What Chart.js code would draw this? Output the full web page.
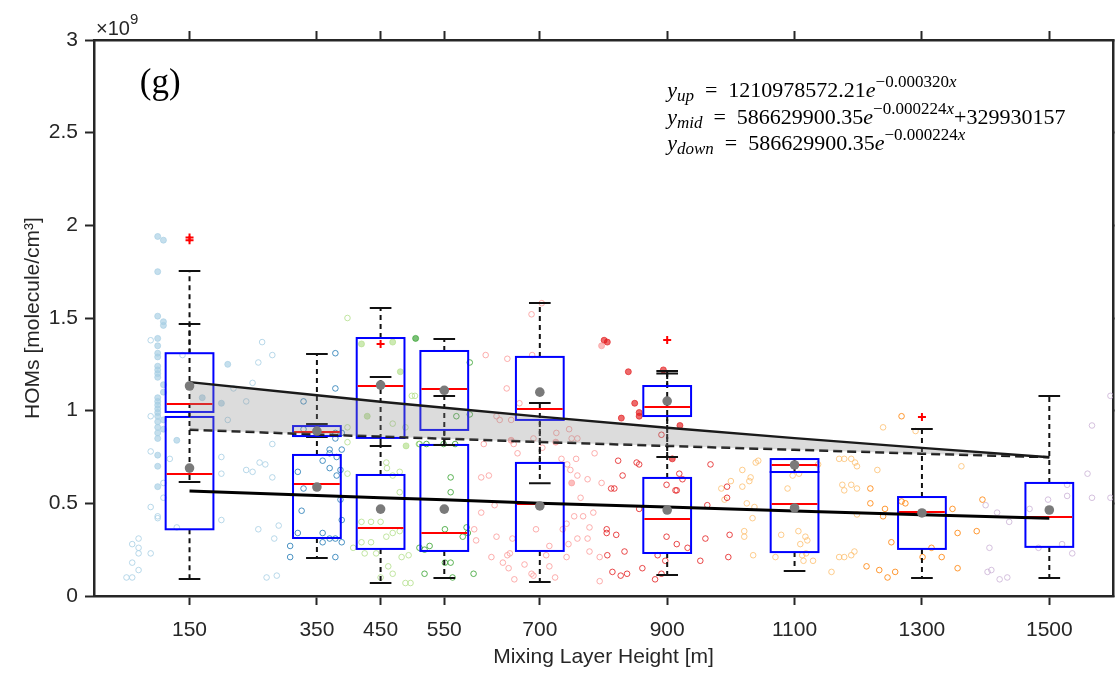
<!DOCTYPE html>
<html>
<head>
<meta charset="utf-8">
<script src="https://cdn.jsdelivr.net/npm/chart.js@4.4.1/dist/chart.umd.min.js"></script>
<style>
  html, body { margin: 0; padding: 0; background: #fff; }
</style>
</head>
<body>
<canvas id="chartHoms" width="1115" height="677"></canvas>
<script>
// mixing layer height classes [m]
var heights = [150, 350, 450, 550, 700, 900, 1100, 1300, 1500]

// box stats in 1e9 molecule/cm3 (null = no upper box for that class)
var upQ1   = [0.993, 0.863, 0.853, 0.896, 0.950, 0.971, 0.669, null, null]
var upQ3   = [1.310, 0.917, 1.392, 1.322, 1.290, 1.133, 0.739, null, null]
var upMed  = [1.036, 0.885, 1.133, 1.117, 1.009, 1.020, 0.707, null, null]
var upMean = [1.133, 0.890, 1.138, 1.110, 1.100, 1.052, 0.707, null, null]
var upLo   = [0.615, 0.858, 0.809, 0.815, 0.609, 0.750, 0.669, null, null]
var upHi   = [1.754, 0.928, 1.554, 1.387, 1.581, 1.214, 0.739, null, null]

var loQ1   = [0.360, 0.313, 0.254, 0.243, 0.243, 0.232, 0.237, 0.254, 0.265]
var loQ3   = [0.966, 0.761, 0.653, 0.815, 0.718, 0.637, 0.669, 0.534, 0.610]
var loMed  = [0.658, 0.604, 0.367, 0.340, 0.496, 0.415, 0.496, 0.453, 0.426]
var loMean = [0.690, 0.588, 0.469, 0.469, 0.486, 0.464, 0.475, 0.448, 0.464]
var loLo   = [0.092, 0.205, 0.070, 0.097, 0.075, 0.113, 0.135, 0.097, 0.097]
var loHi   = [1.468, 1.306, 1.182, 1.079, 1.041, 1.200, 0.739, 0.901, 1.079]

var outlierX = [150, 150, 450, 900, 1300]
var outlierY = [1.920, 1.935, 1.360, 1.381, 0.966]

// fitted curves read at each class
var fitUp   = [1.154, 1.083, 1.048, 1.016, 0.968, 0.908, 0.852, 0.799, 0.749]
var fitMid  = [0.897, 0.872, 0.860, 0.849, 0.831, 0.810, 0.789, 0.768, 0.749]
var fitDown = [0.567, 0.542, 0.530, 0.519, 0.501, 0.480, 0.459, 0.438, 0.419]

var yTicks = [0, 0.5, 1, 1.5, 2, 2.5, 3]

// raw samples [height jittered, value]
var pts150f = [[100,1.94],[109,1.92],[100,1.75],[100,1.51],[109,1.48],[109,1.46],[100,1.39],[100,1.35],[100,1.31],[100,1.29],[100,1.24],[100,1.22],[100,1.20],[100,1.18],[109,1.14],[100,1.07],[100,1.05],[100,1.03],[100,1.01],[100,0.99],[100,0.97],[100,0.94],[100,0.91],[100,0.88],[100,0.85],[109,1.10],[109,0.95],[109,0.90],[130,0.84],[100,0.76],[100,0.70],[100,0.59],[210,1.25],[200,1.04],[170,1.07]]
var pts150 = [[89,1.38],[139,1.30],[89,0.97],[89,0.78],[119,0.74],[109,0.61],[109,0.53],[100,0.42],[89,0.48],[89,0.23],[100,0.43],[60,0.28],[70,0.31],[70,0.26],[70,0.23],[60,0.18],[70,0.14],[51,0.10],[60,0.10],[130,0.37],[219,1.12],[239,1.05],[249,1.15],[264,1.37],[280,1.30],[258,1.26],[200,0.75],[200,0.66],[200,0.41],[239,0.68],[249,0.67],[260,0.72],[269,0.71],[280,0.64],[280,0.82],[210,0.95],[258,0.36],[271,0.10],[287,0.11],[283,0.31],[290,0.38]]
var pts350 = [[379,1.31],[379,1.12],[329,1.05],[329,0.90],[379,0.88],[379,0.85],[389,0.88],[370,0.79],[389,0.79],[359,0.73],[370,0.69],[381,0.75],[370,0.77],[381,0.65],[320,0.67],[329,0.58],[326,0.46],[320,0.34],[308,0.27],[308,0.21],[359,0.29],[370,0.31],[379,0.31],[389,0.29],[379,0.21],[359,0.34],[387,0.68],[387,0.52],[389,0.41]]
var pts450 = [[398,1.50],[499,1.08],[504,1.08],[469,0.93],[489,0.91],[398,0.91],[398,0.83],[510,0.82],[459,0.72],[460,0.69],[480,0.67],[469,0.65],[398,0.66],[480,0.56],[420,0.40],[435,0.40],[450,0.40],[459,0.32],[469,0.34],[480,0.35],[420,0.29],[435,0.29],[407,0.26],[425,0.23],[443,0.23],[483,0.21],[494,0.22],[450,0.10],[469,0.12],[489,0.07],[497,0.07],[462,0.16]]
var pts450f = [[420,1.36],[469,1.37],[481,1.21],[429,0.97],[490,0.81]]
var pts550 = [[590,1.26],[569,0.97],[590,0.98],[511,0.82],[522,0.82],[567,0.82],[549,0.82],[560,0.64],[560,0.56],[585,0.37],[579,0.32],[587,0.34],[551,0.36],[511,0.26],[527,0.27],[519,0.25],[551,0.18],[560,0.18],[519,0.12],[563,0.10],[596,0.12]]
var pts550f = [[505,1.39]]
var pts700 = [[615,1.30],[649,1.28],[687,1.52],[703,1.58],[688,1.30],[648,1.12],[668,1.04],[632,0.97],[637,0.95],[655,0.95],[746,0.90],[726,0.88],[750,0.85],[759,0.85],[690,0.85],[659,0.82],[612,0.82],[665,0.77],[704,0.80],[734,0.74],[743,0.71],[757,0.74],[748,0.68],[775,0.63],[759,0.65],[786,0.77],[797,0.61],[764,0.53],[754,0.43],[768,0.43],[784,0.45],[742,0.39],[736,0.36],[694,0.36],[657,0.31],[653,0.23],[642,0.18],[651,0.15],[676,0.17],[687,0.12],[690,0.11],[715,0.16],[724,0.10],[742,0.21],[745,0.28],[759,0.31],[775,0.31],[778,0.24],[794,0.21],[794,0.08],[778,0.37],[608,0.64],[620,0.65],[629,0.49],[608,0.45],[597,0.36],[632,0.32],[600,0.30],[710,0.22],[624,0.21],[649,0.22],[715,0.27],[660,0.09]]
var pts700f = [[797,1.35],[750,0.61],[725,0.83],[655,0.84]]
var pts900 = [[823,0.73],[852,0.72],[856,0.71],[830,0.65],[812,0.58],[817,0.58],[891,0.87],[919,0.66],[924,0.63],[913,0.57],[915,0.57],[899,0.60],[968,0.71],[994,0.59],[994,0.53],[963,0.49],[856,0.47],[899,0.32],[915,0.28],[960,0.31],[998,0.33],[996,0.21],[952,0.19],[932,0.26],[885,0.22],[861,0.15],[837,0.12],[827,0.11],[814,0.13],[806,0.22],[805,0.36],[805,0.34],[820,0.33],[833,0.24],[897,0.19],[891,0.12],[881,0.09]]
var pts900f = [[801,1.38],[806,1.37],[839,1.21],[849,1.04],[828,0.96],[856,0.99],[856,0.97],[894,1.22],[908,0.74],[920,0.92]]
var pts1100 = [[1018,0.68],[1039,0.72],[1043,0.73],[1031,0.64],[1029,0.62],[1018,0.59],[1025,0.50],[1037,0.48],[1034,0.42],[1021,0.35],[1021,0.32],[1035,0.22],[1070,0.21],[1079,0.33],[1106,0.35],[1117,0.32],[1120,0.30],[1109,0.28],[1112,0.22],[1118,0.23],[1129,0.19],[1114,0.19],[1089,0.58],[1097,0.65],[1107,0.66],[1137,0.71],[1158,0.13],[1170,0.21],[1178,0.21],[1189,0.22],[1194,0.24],[1170,0.74],[1178,0.74],[1189,0.74],[1195,0.72],[1198,0.70],[1175,0.60],[1189,0.60],[1198,0.58],[1178,0.57],[1198,0.44],[1230,0.68],[1239,0.91],[1290,0.89],[1362,0.70],[990,0.52],[1000,0.62],[985,0.58]]
var pts1300 = [[1219,0.58],[1219,0.50],[1242,0.47],[1239,0.43],[1252,0.29],[1213,0.16],[1233,0.14],[1246,0.10],[1258,0.13],[1274,0.50],[1268,0.51],[1301,0.21],[1315,0.26],[1331,0.21],[1348,0.47],[1356,0.34],[1356,0.15],[1386,0.35],[1395,0.52],[1268,0.97]]
var pts1500 = [[1400,0.49],[1418,0.45],[1437,0.40],[1406,0.26],[1403,0.13],[1409,0.14],[1422,0.09],[1434,0.10],[1469,0.47],[1498,0.52],[1483,0.26],[1520,0.28],[1536,0.23],[1528,0.60],[1528,0.54],[1560,0.66],[1567,0.53],[1567,0.92],[1596,1.08],[1596,0.53]]

var BOX_HALF = 37.5   // m
var CAP_HALF = 17     // m
var TXT = '#262626'
Chart.defaults.font.family = 'Liberation Sans'

var toXY = function(arr){
  return arr.map(function(p){ return {x: p[0], y: p[1]} })
}
var zipXY = function(xs, ys){
  var out = []
  for (let i = 0; i < xs.length; i++) {
    if (ys[i] != null) out.push({x: xs[i], y: ys[i]})
  }
  return out
}

var rgba = function(hex, a){
  var n = parseInt(hex.slice(1), 16)
  return 'rgba(' + (n >> 16) + ',' + ((n >> 8) & 255) + ',' + (n & 255) + ',' + a + ')'
}

var hollow = function(arr, hex){
  return { label: 'pts', data: toXY(arr), pointRadius: 2.8, pointBorderWidth: 1,
    pointBackgroundColor: 'rgba(0,0,0,0)', pointBorderColor: rgba(hex, 0.8) }
}
var filled = function(arr, hex){
  return { label: 'pts', data: toXY(arr), pointRadius: 3, pointBorderWidth: 1,
    pointBackgroundColor: rgba(hex, 0.65), pointBorderColor: rgba(hex, 0.65) }
}

var drawBoxes = function(ctx, xs, ys, q1, q3, med, lo, hi){
  heights.forEach(function(h, i){
    if (q1[i] == null) return
    var xc = xs.getPixelForValue(h)
    var xl = xs.getPixelForValue(h - BOX_HALF), xr = xs.getPixelForValue(h + BOX_HALF)
    var cl = xs.getPixelForValue(h - CAP_HALF), cr = xs.getPixelForValue(h + CAP_HALF)
    var y1 = ys.getPixelForValue(q1[i]), y3 = ys.getPixelForValue(q3[i])
    var yl = ys.getPixelForValue(lo[i]), yh = ys.getPixelForValue(hi[i])
    var ym = ys.getPixelForValue(med[i])
    ctx.strokeStyle = '#111'
    ctx.lineWidth = 2
    ctx.setLineDash([5, 4])
    ctx.beginPath()
    ctx.moveTo(xc, y3); ctx.lineTo(xc, yh)
    ctx.moveTo(xc, y1); ctx.lineTo(xc, yl)
    ctx.stroke()
    ctx.setLineDash([])
    ctx.beginPath()
    ctx.moveTo(cl, yh); ctx.lineTo(cr, yh)
    ctx.moveTo(cl, yl); ctx.lineTo(cr, yl)
    ctx.stroke()
    ctx.strokeStyle = '#0000ff'
    ctx.strokeRect(xl, y3, xr - xl, y1 - y3)
    ctx.strokeStyle = '#ff0000'
    ctx.beginPath()
    ctx.moveTo(xl + 1, ym); ctx.lineTo(xr - 1, ym)
    ctx.stroke()
  })
}

var boxPlugin = {
  id: 'boxPlugin',
  afterDatasetDraw: function(chart, args){
    if (chart.data.datasets[args.index].label !== 'boxes') return
    var ctx = chart.ctx
    ctx.save()
    drawBoxes(ctx, chart.scales.x, chart.scales.y, loQ1, loQ3, loMed, loLo, loHi)
    drawBoxes(ctx, chart.scales.x, chart.scales.y, upQ1, upQ3, upMed, upLo, upHi)
    ctx.restore()
  }
}

var drawRich = function(ctx, x, y, parts){
  parts.forEach(function(p){
    ctx.font = p[1]
    ctx.fillText(p[0], x, y + (p[2] || 0))
    x += ctx.measureText(p[0]).width
  })
}

var textPlugin = {
  id: 'textPlugin',
  afterDraw: function(chart){
    var ctx = chart.ctx, a = chart.chartArea
    var xs = chart.scales.x, ys = chart.scales.y
    ctx.save()
    ctx.fillStyle = TXT
    ctx.textBaseline = 'alphabetic'
    ctx.textAlign = 'left'
    drawRich(ctx, a.left + 2, a.top - 5, [['\u00d710', '20px Liberation Sans'], ['9', '15px Liberation Sans', -11]])
    ctx.fillStyle = '#000'
    ctx.font = '35px Liberation Serif'
    ctx.fillText('(g)', xs.getPixelForValue(72), ys.getPixelForValue(2.715))
    var big = '22px Liberation Serif', bigI = 'italic 22px Liberation Serif'
    var sm = '17px Liberation Serif', smI = 'italic 17px Liberation Serif'
    var ex = xs.getPixelForValue(900)
    var eq = '\u2002=\u2002'
    drawRich(ctx, ex, ys.getPixelForValue(2.69), [['y', bigI], ['up', smI, 4], [eq, big], ['1210978572.21', big], ['e', bigI], ['\u22120.000320', sm, -10], ['x', smI, -10]])
    drawRich(ctx, ex, ys.getPixelForValue(2.548), [['y', bigI], ['mid', smI, 4], [eq, big], ['586629900.35', big], ['e', bigI], ['\u22120.000224', sm, -10], ['x', smI, -10], ['+329930157', big]])
    drawRich(ctx, ex, ys.getPixelForValue(2.408), [['y', bigI], ['down', smI, 4], [eq, big], ['586629900.35', big], ['e', bigI], ['\u22120.000224', sm, -10], ['x', smI, -10]])
    ctx.restore()
  }
}

var gridOpts = { drawOnChartArea: false, drawTicks: true, tickLength: 9, tickColor: TXT, tickWidth: 2 }
var borderOpts = { display: true, color: TXT, width: 2.5 }
var setXTicks = function(scale){ scale.ticks = heights.map(function(v){ return {value: v} }) }
var setYTicks = function(scale){ scale.ticks = yTicks.map(function(v){ return {value: v} }) }

var ctx = document.getElementById('chartHoms')

var chartHoms = new Chart(ctx, {
  type: 'scatter',
  data: {
    datasets: [
      { label: 'means', data: zipXY(heights, upMean).concat(zipXY(heights, loMean)),
        pointRadius: 4.8, pointBorderWidth: 0, pointBackgroundColor: '#7a7a7a' },
      { label: 'outliers', data: zipXY(outlierX, outlierY), pointStyle: 'cross',
        pointRadius: 4, pointBorderWidth: 2, pointBorderColor: '#ff0000' },
      { type: 'line', label: 'up', data: zipXY(heights, fitUp), borderColor: '#1a1a1a',
        borderWidth: 2.4, pointRadius: 0, fill: '+1', backgroundColor: 'rgba(140,140,140,0.3)' },
      { type: 'line', label: 'mid', data: zipXY(heights, fitMid), borderColor: '#1a1a1a',
        borderWidth: 2.5, borderDash: [9, 5], pointRadius: 0, fill: false },
      { type: 'line', label: 'down', data: zipXY(heights, fitDown), borderColor: '#000',
        borderWidth: 3, pointRadius: 0, fill: false },
      { label: 'boxes', data: [] },
      filled(pts150f, '#a6cee3'),
      hollow(pts150, '#a6cee3'),
      hollow(pts350, '#1f78b4'),
      hollow(pts450, '#b2df8a'),
      filled(pts450f, '#b2df8a'),
      hollow(pts550, '#33a02c'),
      filled(pts550f, '#33a02c'),
      hollow(pts700, '#fb9a99'),
      filled(pts700f, '#fb9a99'),
      hollow(pts900, '#e31a1c'),
      filled(pts900f, '#e31a1c'),
      hollow(pts1100, '#fdbf6f'),
      hollow(pts1300, '#ff7f00'),
      hollow(pts1500, '#cab2d6')
    ]
  },
  options: {
    responsive: false,
    animation: false,
    devicePixelRatio: 1,
    layout: { padding: 0, autoPadding: false },
    plugins: { legend: { display: false }, tooltip: { enabled: false } },
    scales: {
      x: {
        type: 'linear', position: 'bottom', min: 0, max: 1600,
        afterBuildTicks: setXTicks,
        afterFit: function(s){ s.height = 81 },
        ticks: { color: TXT, font: { size: 21 }, padding: 13, autoSkip: false, maxRotation: 0,
          callback: function(v){ return String(v) } },
        grid: gridOpts, border: borderOpts,
        title: { display: true, text: 'Mixing Layer Height [m]', color: TXT, font: { size: 21 },
          padding: { top: 0, bottom: 7 } }
      },
      x2: {
        type: 'linear', position: 'top', min: 0, max: 1600,
        afterBuildTicks: setXTicks,
        afterFit: function(s){ s.height = 40 },
        ticks: { display: false },
        grid: gridOpts, border: borderOpts
      },
      y: {
        type: 'linear', position: 'left', min: 0, max: 3,
        afterBuildTicks: setYTicks,
        afterFit: function(s){ s.width = 94 },
        ticks: { color: TXT, font: { size: 21 }, padding: 7,
          callback: function(v){ return String(v) } },
        grid: gridOpts, border: borderOpts,
        title: { display: true, text: 'HOMs [molecule/cm\u00b3]', color: TXT, font: { size: 21 },
          padding: { top: 21, bottom: 0 } }
      },
      y2: {
        type: 'linear', position: 'right', min: 0, max: 3,
        afterBuildTicks: setYTicks,
        afterFit: function(s){ s.width = 2 },
        ticks: { display: false },
        grid: gridOpts, border: borderOpts
      }
    }
  },
  plugins: [boxPlugin, textPlugin]
});
</script>
</body>
</html>
